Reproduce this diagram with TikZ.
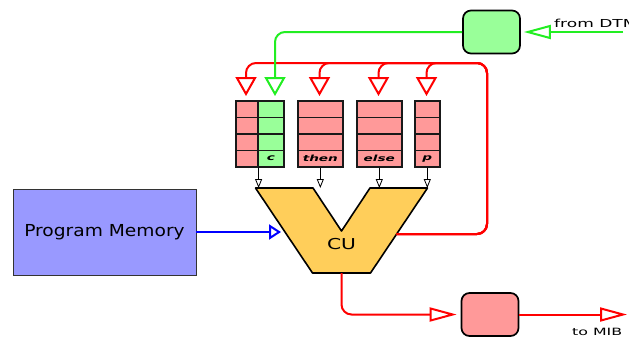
\documentclass[tikz,border=0pt]{standalone}
\usepackage{fontspec}
\setmainfont{DejaVu Sans}
\usetikzlibrary{arrows.meta}
\definecolor{memblue}{HTML}{9999FF}
\definecolor{regred}{HTML}{FF9999}
\definecolor{reggreen}{HTML}{99FF99}
\definecolor{cuyellow}{HTML}{FFCE5A}
\definecolor{wirered}{HTML}{FF0000}
\definecolor{wiregreen}{HTML}{22EE22}
\definecolor{wireblue}{HTML}{0000FF}
\newcommand{\widetext}[2]{\scalebox{#1}[1]{#2}}
\begin{document}
\begin{tikzpicture}[x=1pt,y=-1pt,
  cell/.style={draw=black!90, line width=1.6pt, minimum width=#1,
    minimum height=16.5pt, inner sep=0pt, anchor=north west},
  regtag/.style={font=\fontsize{8.5}{8.5}\selectfont\bfseries\itshape},
  pad/.style={draw=black, line width=1.7pt, rounded corners=8pt,
    minimum width=57pt, minimum height=43pt, inner sep=0pt},
  redwire/.style={draw=wirered, line width=2pt, rounded corners=10pt},
  greenwire/.style={draw=wiregreen, line width=2pt, rounded corners=10pt},
  bluewire/.style={draw=wireblue, line width=2pt},
  vhead/.style={-{Triangle[open, length=19pt, width=21pt]}},
  hhead/.style={-{Triangle[open, length=27pt, width=14pt]}},
  bhead/.style={-{Triangle[open, length=12pt, width=15pt]}},
  shead/.style={draw=black, line width=0.8pt, -{Triangle[open, length=9pt, width=7pt]}}]
\clip (0,0) rectangle (629,338);
\fill[white] (0,0) rectangle (629,338);

% program memory
\node[draw=black!80, line width=0.9pt, fill=memblue, minimum width=183pt,
  minimum height=86pt, inner sep=0pt] (pm) at (104.5,232)
  {\raisebox{-2.5pt}{\fontsize{16.5}{16.5}\selectfont\widetext{1.13}{Program Memory}}};

% control unit
\fill[cuyellow, draw=black, line width=1.6pt, line join=round]
  (255.5,188) -- (313,188) -- (341.5,231) -- (370,188) -- (427.5,188)
  -- (370.5,273) -- (312.5,273) -- cycle;
\node[inner sep=0pt, anchor=base] (cu) at (341.5,249)
  {\fontsize{15}{15}\selectfont\widetext{1.35}{CU}};
\coordinate (cuL) at (285,232);
\coordinate (cuR) at (396.7,234);
\coordinate (cuB) at (341.5,273);
\coordinate (cuT) at (341.5,188);

% register banks
\foreach \i in {0,...,3} {
  \node[cell=22pt, fill=regred] (ra\i) at (235,{100+16.5*\i}) {};
  \node[cell=26pt, fill=reggreen] (rc\i) at (257,{100+16.5*\i}) {};
  \node[cell=45pt, fill=regred] (rt\i) at (297,{100+16.5*\i}) {};
  \node[cell=45pt, fill=regred] (re\i) at (356,{100+16.5*\i}) {};
  \node[cell=25pt, fill=regred] (rp\i) at (414,{100+16.5*\i}) {};
}
\node[regtag] at (rc3) {\widetext{1.6}{c}};
\node[regtag] at (rt3) {\widetext{1.6}{then}};
\node[regtag] at (re3) {\widetext{1.6}{else}};
\node[regtag] at (rp3) {\widetext{1.6}{p}};

% arrow tips above the banks
\coordinate (ta) at (246,96);
\coordinate (tc) at (275,96);
\coordinate (tt) at (319.5,96);
\coordinate (te) at (378.5,96);
\coordinate (tp) at (426.5,96);

% I/O pads
\node[pad, fill=reggreen] (gin) at (491.5,32) {};
\node[pad, fill=regred] (rout) at (490,314.5) {};
\coordinate (dtm) at (623,32);
\coordinate (mib) at (627,314.5);

% result feedback from CU to the banks
\draw[redwire, vhead] (cuR) -- (487,234) -- (487,63) -| (ta);
\draw[redwire, vhead] (cuR) -- (487,234) -- (487,63) -| (tt);
\draw[redwire, vhead] (cuR) -- (487,234) -- (487,63) -| (te);
\draw[redwire, vhead] (cuR) -- (487,234) -- (487,63) -| (tp);

% condition input
\draw[greenwire, vhead] (gin.west) -| (tc);
\draw[greenwire, hhead, shorten >=3pt] (dtm) -- (gin.east);
\node[anchor=base west, inner sep=0pt] at (554,27)
  {\fontsize{11}{11}\selectfont\widetext{1.55}{from DTM}};

% output
\draw[redwire, hhead, shorten >=4pt] (cuB) |- (rout.west);
\draw[redwire, hhead] (rout.east) -- (mib);
\node[anchor=base west, inner sep=0pt] at (572,335)
  {\fontsize{10}{10}\selectfont\widetext{1.58}{to MIB}};

% instruction fetch
\draw[bluewire, bhead, shorten >=4pt] (pm.east) -- (pm.east -| cuL);

% bank outputs into the CU
\draw[shead] (ra3.south east) -- (ra3.south east |- cuT);
\draw[shead] (rt3.south) -- (rt3.south |- cuT);
\draw[shead] (re3.south) -- (re3.south |- cuT);
\draw[shead] (rp3.south) -- (rp3.south |- cuT);
\end{tikzpicture}
\end{document}
